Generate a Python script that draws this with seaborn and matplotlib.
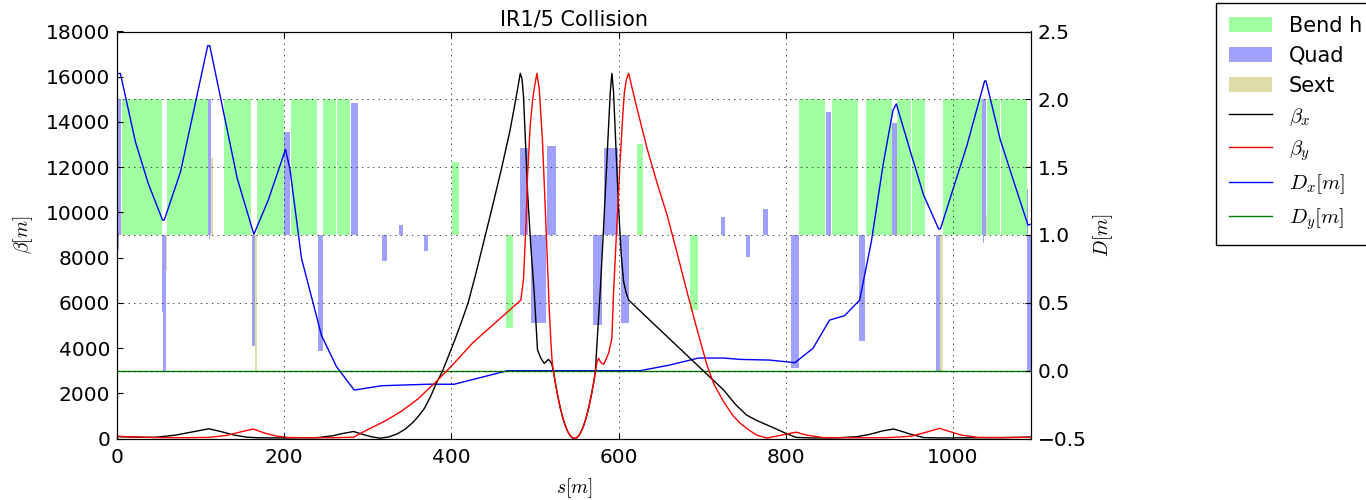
import matplotlib
matplotlib.use('Agg')
import matplotlib.pyplot as plt
import seaborn as sns
from matplotlib.patches import Patch

# beta functions [m] along s [m]
s_bx = [0, 20, 45, 70, 90, 110, 125, 140, 155, 170, 200, 240, 258, 270, 283, 295, 305, 315,
        325, 335, 345, 355, 362, 368, 375, 382, 389, 396, 404, 412, 420, 430, 440, 450, 460, 470, 477, 482.4,
        484.5, 486.3, 488.5, 491.1, 495, 499, 503, 507, 511, 514, 516, 518, 520,
        522, 524, 527, 530, 533, 536, 539, 542, 545, 547.2, 549.5, 552, 555, 558, 561, 564, 567, 570, 572.2,
        574, 578, 582, 586, 590, 592, 594, 597, 600, 603, 606, 609, 612,
        630, 650, 670, 690, 710, 725.6, 740, 753, 765, 780, 800, 812, 830, 860, 885, 900, 915, 929, 940, 950,
        965, 985, 1020, 1060, 1093.3]
beta_x = [80, 60, 50, 150, 290, 430, 300, 150, 60, 30, 25, 40, 120, 220, 310, 170, 70, 15,
          70, 200, 420, 750, 1050, 1350, 1850, 2450, 2950, 3600, 4350, 5150, 6000, 7400, 8900, 10400, 11950, 13600, 15000, 16150,
          15900, 15100, 13200, 10900, 8500, 6490, 3915, 3550, 3325, 3420, 3500, 3420, 3300,
          2985, 2530, 1918, 1390, 948, 590, 316, 127, 23, 5, 25, 108, 286, 548, 895, 1327, 1843, 2443, 2940,
          4100, 6500, 9300, 12300, 15300, 16150, 15300, 12700, 10200, 8200, 6935, 6450, 6126,
          5490, 4790, 4090, 3390, 2690, 2145, 1500, 1040, 800, 560, 230, 50, 25, 25, 80, 180, 330, 420, 300, 180,
          40, 25, 30, 40, 60]

s_by = [0, 20, 50, 80, 110, 130, 148, 163, 175, 190, 205, 230, 260, 283, 299, 320, 340, 360, 380, 400, 426, 455, 483.2,
        486.3, 489.2, 491.1, 494.3, 497, 499.1, 502.3, 505, 509, 513.1, 517, 519, 520.5,
        522, 524, 527, 530, 533, 536, 539, 542, 545, 547.2, 549.5, 552, 555, 558, 561, 564, 567, 570, 572.2,
        574, 576, 579, 582, 585, 588, 592, 594, 598, 602, 605, 607, 609.5, 612,
        620, 634, 646, 658, 670, 681.8, 694, 705.7, 714, 725.6, 737, 745.5, 755, 765, 777.5, 795, 812, 825, 845,
        880, 920, 950, 968, 984, 995, 1010, 1030, 1060, 1093.3]
beta_y = [100, 70, 40, 35, 50, 130, 290, 420, 260, 110, 45, 30, 35, 60, 376, 760, 1200, 1750, 2450, 3200, 4250, 5200, 6126,
          7085, 9443, 11655, 13866, 14900, 15490, 16150, 15490, 13130, 9443, 5758, 4300, 3400,
          2985, 2530, 1918, 1390, 948, 590, 316, 127, 23, 5, 25, 108, 286, 548, 895, 1327, 1843, 2443, 2940,
          3350, 3547, 3350, 3282, 3500, 3768, 4432, 6493, 9500, 12393, 14300, 15340, 15900, 16150,
          14900, 12835, 11300, 9885, 8200, 6493, 4800, 3250, 2400, 1628, 1000, 672, 400, 150, 20, 150, 280, 150, 40,
          30, 35, 100, 280, 450, 320, 150, 50, 40, 55]

# dispersion [m]
s_dx = [0, 4, 5.5, 22, 37.3, 54.5, 56.5, 76, 108.5, 111, 143.8, 163.7, 181, 201.5, 206.8,
        220.7, 244.6, 262.6, 283.8, 316.4, 372.3, 403.4, 467.2, 625.8, 660, 695.6, 725.5, 745.4, 780.6, 811,
        832.5, 852.4, 870.3, 888.3, 902.3, 916.3, 928.2, 932.2, 950.9, 964.8, 982.8, 985, 1016.7, 1037.8, 1039.5,
        1056.6, 1076.6, 1089.7, 1093.3]
disp_x = [2.19, 2.19, 2.15, 1.688, 1.381, 1.11, 1.11, 1.466, 2.395, 2.395, 1.418, 1.005, 1.258, 1.63, 1.49,
          0.828, 0.26, 0.029, -0.143, -0.111, -0.1, -0.1, 0.0, 0.0, 0.04, 0.093, 0.093, 0.083, 0.078, 0.059,
          0.165, 0.373, 0.405, 0.52, 0.95, 1.515, 1.92, 1.966, 1.577, 1.295, 1.045, 1.045, 1.661, 2.135, 2.135,
          1.70, 1.32, 1.073, 1.08]
s_dy = [0, 1093.3]
disp_y = [0.0, 0.0]

# element layout: start, length, normalised strength (drawn from baseline 1.0)
bend_s = [5.9, 38.5, 59.7, 128.2, 145.0, 167.7, 208.4, 247.0, 263.0,
          400.6, 465.8, 622.0, 685.7,
          816.3, 832.7, 855.8, 896.1, 933.0, 951.0, 987.6, 1040.7, 1057.6]
bend_len = [31.8, 15.2, 49.0, 16.0, 15.2, 31.5, 30.7, 15.2, 15.2,
            9.0, 7.3, 7.1, 8.8,
            15.7, 14.7, 30.2, 31.5, 17.0, 15.0, 47.4, 15.9, 30.5]
bend_h = [1, 1, 1, 1, 1, 1, 1, 1, 1,
          0.54, -0.683, 0.671, -0.553,
          1, 1, 1, 1, 1, 1, 1, 1, 1]

quad_s = [0.0, 0.0, 54.0, 55.0, 108.7, 110.0, 160.9, 199.6, 240.0, 279.5, 316.5, 337.3, 367.2,
          482.0, 494.8, 503.9, 514.7, 569.8, 582.0, 591.0, 602.6,
          722.4, 752.4, 772.4, 806.8, 848.2, 887.6, 927.0, 980.0, 1034.7, 1035.5, 1088.5, 1089.0]
quad_len = [5.0, 2.5, 1.0, 3.8, 4.0, 1.5, 4.2, 7.3, 6.0, 8.2, 6.0, 5.0, 4.8,
            10.0, 8.8, 8.8, 10.3, 10.2, 8.8, 8.6, 10.0,
            4.8, 5.0, 6.4, 9.0, 6.0, 6.6, 5.5, 5.0, 4.5, 1.5, 1.0, 4.3]
quad_h = [1.0, -0.11, -0.565, -1.0, 1.0, -0.03, -0.816, 0.761, -0.853, 0.971, -0.19, 0.074, -0.116,
          0.642, -0.65, -0.65, 0.655, -0.66, 0.64, 0.64, -0.65,
          0.135, -0.16, 0.192, -0.98, 0.905, -0.779, 0.823, -1.0, 1.0, -0.061, 0.34, -1.0]

sext_s = [5.0, 58.8, 112.7, 165.1, 931.5, 985.0, 1039.0]
sext_len = [1.5, 1.2, 2.0, 2.2, 2.0, 2.5, 2.0]
sext_h = [0.16, -0.258, 0.565, -1.0, 0.59, -1.0, 0.147]

plt.rcParams['font.family'] = ['DejaVu Sans']
plt.rcParams['mathtext.fontset'] = 'cm'
plt.rcParams['xtick.direction'] = 'in'
plt.rcParams['ytick.direction'] = 'in'
plt.rcParams['xtick.top'] = True
plt.rcParams['axes.axisbelow'] = False
plt.rcParams['lines.scale_dashes'] = False

fig = plt.figure(figsize=(13.66, 5.0), dpi=100)
ax = fig.add_axes([117 / 1366, 61.5 / 500, 914 / 1366, 407 / 500])
ax2 = ax.twinx()

alpha = 0.373
bend_col = (0.0, 1.0, 0.0)
quad_col = (0.0, 0.0, 1.0)
sext_col = (0.65, 0.65, 0.1)

ax2.bar(bend_s, bend_h, width=bend_len, bottom=1.0, align='edge', color=bend_col, alpha=alpha, lw=0)
ax2.bar(quad_s, quad_h, width=quad_len, bottom=1.0, align='edge', color=quad_col, alpha=alpha, lw=0)
ax2.bar(sext_s, sext_h, width=sext_len, bottom=1.0, align='edge', color=sext_col, alpha=alpha, lw=0)

sns.lineplot(x=s_dx, y=disp_x, ax=ax2, color='b', lw=1.0, sort=False, estimator=None, legend=False)
sns.lineplot(x=s_dy, y=disp_y, ax=ax2, color='g', lw=1.0, sort=False, estimator=None, legend=False)
sns.lineplot(x=s_bx, y=beta_x, ax=ax, color='k', lw=1.0, sort=False, estimator=None, legend=False)
sns.lineplot(x=s_by, y=beta_y, ax=ax, color='r', lw=1.0, sort=False, estimator=None, legend=False)

ax.set_zorder(ax2.get_zorder() + 1)
ax.patch.set_visible(False)

ax.set_xlim(0, 1093.3)
ax.set_ylim(0, 18000)
ax2.set_ylim(-0.5, 2.5)
ax.set_xticks(range(0, 1001, 200))
ax.set_yticks(range(0, 18001, 2000))
ax2.set_yticks([-0.5, 0.0, 0.5, 1.0, 1.5, 2.0, 2.5])

grid_ls = (0, (1, 3))
ax.grid(axis='x', color='k', lw=0.5, ls=grid_ls)
ax2.grid(axis='y', color='k', lw=0.5, ls=grid_ls)

ax.tick_params(axis='x', labelsize=14.5, pad=7, length=4, width=0.8)
ax.tick_params(axis='y', labelsize=14.5, pad=5, length=4, width=0.8)
ax2.tick_params(axis='y', labelsize=14.5, pad=5, length=4, width=0.8)

ax.set_title('IR1/5 Collision', fontsize=15, pad=4.5)
ax.set_xlabel(r'$s[m]$', fontsize=14)
ax.set_ylabel(r'$\beta[m]$', fontsize=14)
ax2.set_ylabel(r'$D[m]$', fontsize=14)
ax.xaxis.set_label_coords(0.5, -0.092)
ax.yaxis.set_label_coords(-0.09, 0.5)
ax2.yaxis.set_label_coords(1.066, 0.5)

handles = [Patch(color=bend_col, alpha=alpha, lw=0),
           Patch(color=quad_col, alpha=alpha, lw=0),
           Patch(color=sext_col, alpha=alpha, lw=0),
           ax.lines[0], ax.lines[1], ax2.lines[0], ax2.lines[1]]
labels = ['Bend h', 'Quad', 'Sext', r'$\beta_x$', r'$\beta_y$', r'$D_x[m]$', r'$D_y[m]$']
leg = fig.legend(handles, labels, loc='upper left', bbox_to_anchor=(1216 / 1366, 1 - 3 / 500),
                 bbox_transform=fig.transFigure, borderaxespad=0, fontsize=15, fancybox=False,
                 framealpha=1, edgecolor='k', handlelength=2.1, borderpad=0.6, labelspacing=0.48)
leg.get_frame().set_linewidth(1.0)

fig.savefig('out.png', dpi=100)
